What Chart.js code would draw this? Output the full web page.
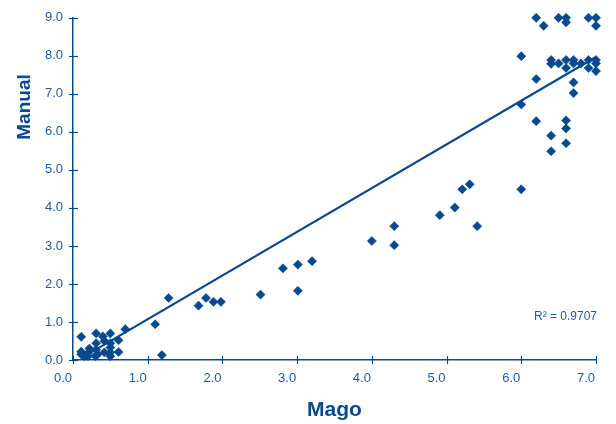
<!DOCTYPE html>
<html>
<head>
<meta charset="utf-8">
<script src="https://cdn.jsdelivr.net/npm/chart.js@4/dist/chart.umd.min.js"></script>
<style>
  html, body { margin: 0; padding: 0; background: #ffffff; }
  #wrap { width: 616px; height: 424px; position: relative; }
</style>
</head>
<body>
<div id="wrap"><canvas id="c" width="616" height="424"></canvas></div>
<script>
// Mago (x) values of each sample
const mago = [
  0.11, 0.11, 0.11, 0.15, 0.20, 0.20, 0.22, 0.30, 0.31, 0.31, 0.31, 0.33, 0.40, 0.42, 0.42,
  0.50, 0.50, 0.50, 0.50, 0.50, 0.61, 0.61, 0.70, 1.10, 1.19,
  1.28, 1.68, 1.78, 1.88, 1.98, 2.51, 2.81, 3.01, 3.01, 3.20,
  4.00, 4.30, 4.30, 4.91, 5.11, 5.21, 5.31, 5.41,
  6.00, 6.20, 6.60, 6.60, 6.40, 6.60, 6.40, 6.00,
  6.20, 6.30, 6.50, 6.60, 6.60, 6.90, 7.00, 7.00,
  6.00, 6.20, 6.40, 6.40, 6.50, 6.60, 6.60, 6.70, 6.70, 6.80, 6.90, 6.90, 7.00, 7.00, 7.00,
  6.70, 6.70
];
// Manual (y) values of each sample
const manual = [
  0.61, 0.15, 0.22, 0.10, 0.18, 0.10, 0.30, 0.10, 0.27, 0.44, 0.70, 0.15, 0.62, 0.50, 0.20,
  0.70, 0.44, 0.33, 0.20, 0.10, 0.52, 0.21, 0.81, 0.94, 0.13,
  1.63, 1.43, 1.63, 1.53, 1.53, 1.72, 2.41, 2.51, 1.82, 2.60,
  3.13, 3.52, 3.02, 3.81, 4.01, 4.49, 4.62, 3.52,
  6.72, 6.28, 6.30, 6.09, 5.90, 5.70, 5.49, 4.49,
  9.00, 8.79, 9.00, 9.00, 8.88, 9.00, 9.00, 8.79,
  7.99, 7.39, 7.89, 7.79, 7.80, 7.89, 7.68, 7.89, 7.80, 7.80, 7.89, 7.68, 7.89, 7.80, 7.60,
  7.30, 7.02
];
// Linear trend line end points
const trendX = [0.11, 7.00];
const trendY = [0.05, 7.97];
// Axis tick labels
const xTickLabels = ["0.0", "1.0", "2.0", "3.0", "4.0", "5.0", "6.0", "7.0"];
const yTickLabels = ["0.0", "1.0", "2.0", "3.0", "4.0", "5.0", "6.0", "7.0", "8.0", "9.0"];
const xTitle = "Mago";
const yTitle = "Manual";
const r2Text = "R\u00B2 = 0.9707";

const MARK = "#08498f";
const TEXT = "#1f5a9e";
const FONT = "'Liberation Sans', Arial, Helvetica, sans-serif";

const points = mago.map((x, i) => ({ x: x, y: manual[i] }));
const trend = trendX.map((x, i) => ({ x: x, y: trendY[i] }));

const extras = {
  id: 'extras',
  afterDraw(chart) {
    const ctx = chart.ctx;
    const xs = chart.scales.x, ys = chart.scales.y;
    ctx.save();
    ctx.strokeStyle = MARK;
    ctx.lineWidth = 1.2;
    // cross tick marks
    xs.ticks.forEach(t => {
      const px = Math.round(xs.getPixelForValue(t.value)) + 0.5;
      ctx.beginPath(); ctx.moveTo(px, ys.bottom - 4); ctx.lineTo(px, ys.bottom + 4); ctx.stroke();
    });
    ys.ticks.forEach(t => {
      const py = Math.round(ys.getPixelForValue(t.value)) + 0.5;
      ctx.beginPath(); ctx.moveTo(xs.left - 4, py); ctx.lineTo(xs.left + 5, py); ctx.stroke();
    });
    // y-axis title
    ctx.fillStyle = MARK;
    ctx.font = "bold 19px " + FONT;
    ctx.textAlign = "center";
    ctx.textBaseline = "middle";
    ctx.translate(25, 107);
    ctx.rotate(-Math.PI / 2);
    ctx.fillText(yTitle, 0, 0);
    ctx.restore();
    // R² label
    ctx.save();
    ctx.fillStyle = TEXT;
    ctx.font = "12px " + FONT;
    ctx.textAlign = "right";
    ctx.textBaseline = "middle";
    ctx.fillText(r2Text, 597, 317);
    ctx.restore();
  }
};

new Chart(document.getElementById('c'), {
  type: 'scatter',
  data: {
    datasets: [
      {
        label: 'Samples',
        data: points,
        pointStyle: 'rectRot',
        pointRadius: 4.6,
        pointBorderWidth: 0.5,
        backgroundColor: MARK,
        borderColor: MARK,
        clip: false,
        order: 1
      },
      {
        label: 'Trend',
        type: 'line',
        data: trend,
        showLine: true,
        borderColor: MARK,
        borderWidth: 2.2,
        pointRadius: 0,
        fill: false,
        clip: false,
        order: 2
      }
    ]
  },
  options: {
    responsive: false,
    animation: false,
    devicePixelRatio: 1,
    layout: { padding: { left: 0, right: 11, top: 17, bottom: 0 } },
    plugins: { legend: { display: false }, tooltip: { enabled: false } },
    scales: {
      x: {
        type: 'linear',
        min: 0, max: 7,
        afterFit(s) { s.height = 64; },
        grid: { display: false, drawTicks: false },
        border: { display: true, color: MARK, width: 1.5 },
        ticks: {
          stepSize: 1,
          padding: 11,
          labelOffset: -10,
          color: TEXT,
          font: { family: FONT, size: 13 },
          callback: (v, i) => xTickLabels[i]
        },
        title: {
          display: true,
          text: xTitle,
          color: MARK,
          font: { family: FONT, size: 21, weight: 'bold' },
          padding: { top: 0, bottom: 1 }
        }
      },
      y: {
        type: 'linear',
        min: 0, max: 9,
        afterFit(s) { s.width = 73; },
        grid: { display: false, drawTicks: false },
        border: { display: true, color: MARK, width: 1.5 },
        ticks: {
          stepSize: 1,
          padding: 10,
          color: TEXT,
          font: { family: FONT, size: 13 },
          callback: (v, i) => yTickLabels[i]
        }
      }
    }
  },
  plugins: [extras]
});
</script>
</body>
</html>
